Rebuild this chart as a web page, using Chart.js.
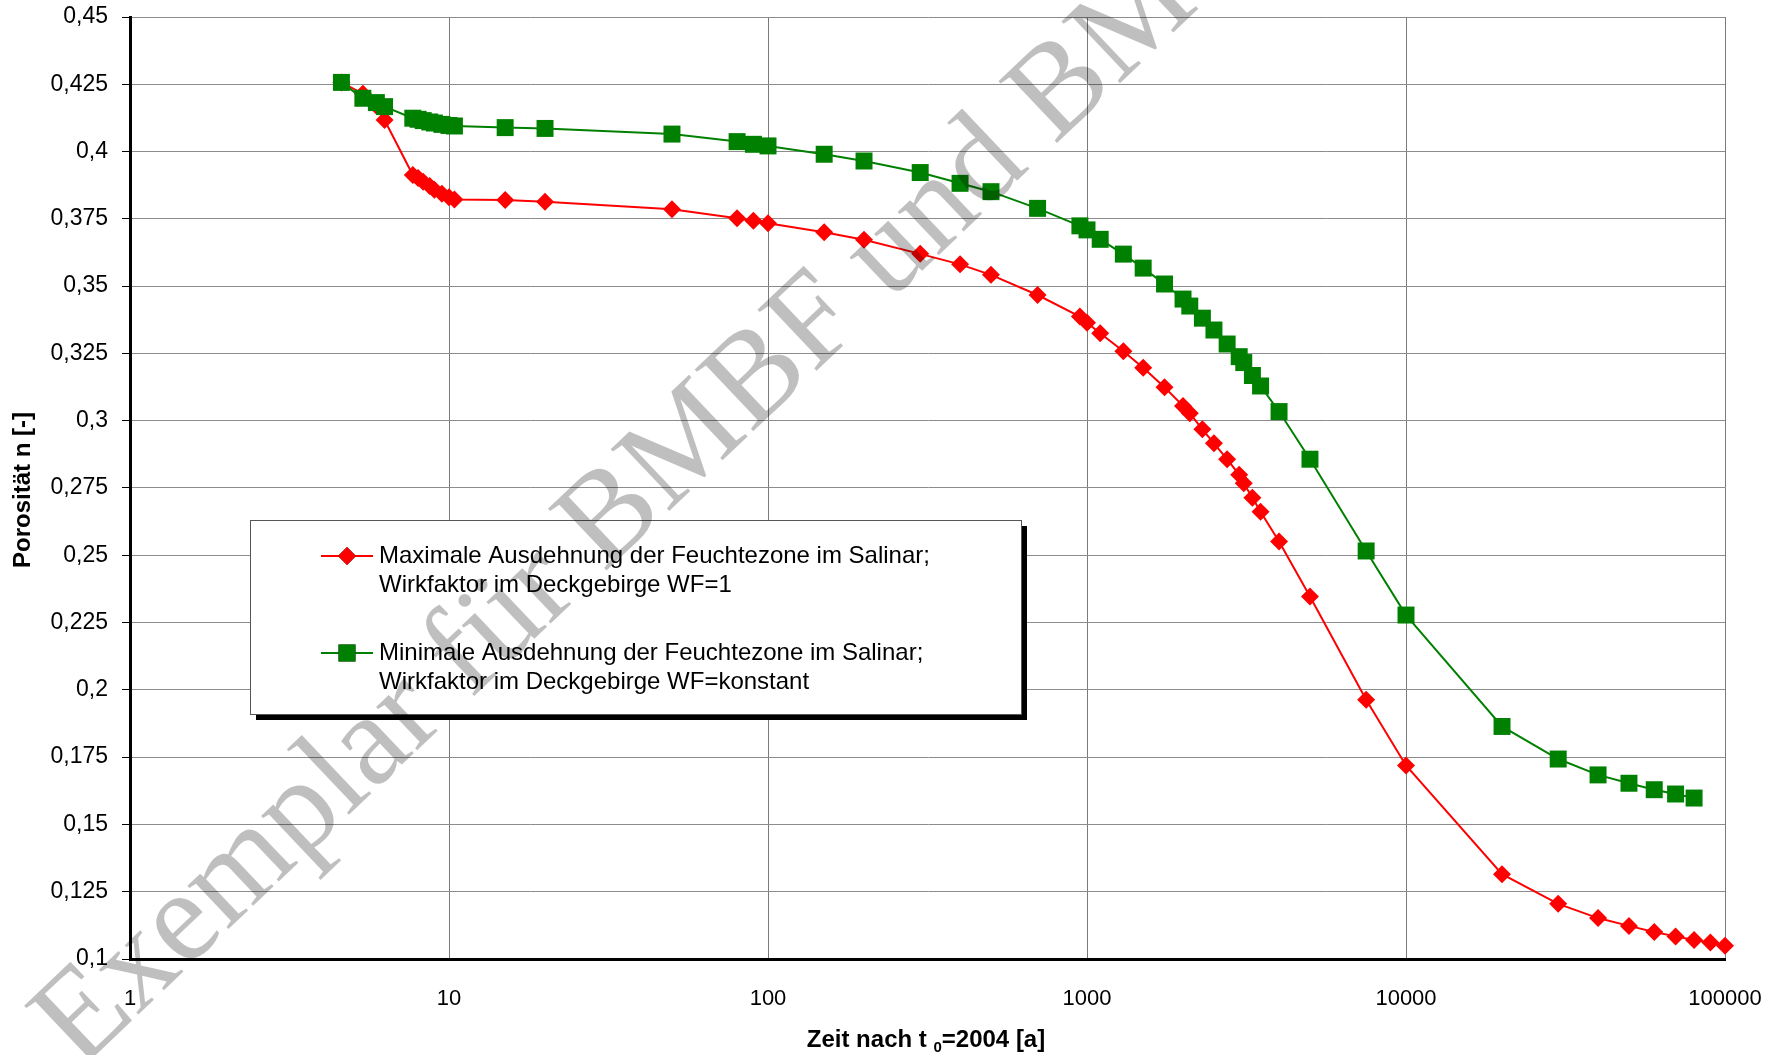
<!DOCTYPE html>
<html>
<head>
<meta charset="utf-8">
<script src="https://cdn.jsdelivr.net/npm/chart.js@4.4.0/dist/chart.umd.min.js"></script>
<style>
  html, body { margin: 0; padding: 0; background: #fff; overflow: hidden; }
</style>
</head>
<body>
<canvas id="porositaetChart" width="1784" height="1055"></canvas>
<script>
// Zeit nach t0=2004 [a]
const zeit = [4.6, 5.37, 5.92, 6.28, 7.7, 8.0, 8.3, 8.7, 9.0, 9.5, 10.0, 10.4, 15, 20, 50, 80, 90, 100,
  150, 200, 300, 400, 500, 700, 950, 1000, 1100, 1300, 1500, 1750, 2000, 2100, 2300, 2500, 2750,
  3000, 3100, 3300, 3500, 4000, 5000, 7500, 10000, 20000, 30000, 40000, 50000, 60000, 70000,
  80000, 90000, 100000];

// Maximale Ausdehnung, WF=1
const porositaetMax = [0.4257, 0.4215, 0.417, 0.4117, 0.3913, 0.3902, 0.3888, 0.3872, 0.3858, 0.3843,
  0.3830, 0.3822, 0.3820, 0.3814, 0.3786, 0.3752, 0.3743, 0.3734, 0.3700, 0.3672, 0.3620, 0.3581,
  0.3542, 0.3467, 0.3387, 0.3364, 0.3325, 0.3258, 0.3197, 0.3124, 0.3055, 0.3028, 0.2968, 0.2916,
  0.2857, 0.2799, 0.2768, 0.2714, 0.2662, 0.2551, 0.2347, 0.1963, 0.1719, 0.1315, 0.1205, 0.1152,
  0.1123, 0.1100, 0.1084, 0.1071, 0.1061, 0.1049];

// Minimale Ausdehnung, WF=konstant (endet bei 80000)
const porositaetMin = [0.4257, 0.4198, 0.4182, 0.4167, 0.4124, 0.4120, 0.4115, 0.4110, 0.4106, 0.4101,
  0.4097, 0.4095, 0.4089, 0.4086, 0.4065, 0.4037, 0.4027, 0.4021, 0.3990, 0.3965, 0.3922, 0.3882,
  0.3851, 0.3789, 0.3724, 0.3709, 0.3674, 0.3619, 0.3567, 0.3508, 0.3452, 0.3426, 0.3381, 0.3337,
  0.3285, 0.3238, 0.3216, 0.3168, 0.3129, 0.3034, 0.2857, 0.2516, 0.2278, 0.1864, 0.1743, 0.1684,
  0.1653, 0.1629, 0.1613, 0.1598];

const xTicks = [1, 10, 100, 1000, 10000, 100000];
const legendLabels = [
  ['Maximale Ausdehnung der Feuchtezone im Salinar;', 'Wirkfaktor im Deckgebirge WF=1'],
  ['Minimale Ausdehnung der Feuchtezone im Salinar;', 'Wirkfaktor im Deckgebirge WF=konstant']
];
const xTitle = ['Zeit nach t ', '0', '=2004 [a]'];
const yTitle = 'Porosität n [-]';
const watermark = 'Exemplar für BMBF und BMWi';

const ROT = '#ff0000';
const GRUEN = '#008000';
const SANS = '"Liberation Sans", Arial, sans-serif';

function toPoints(values) {
  return values.map((v, i) => ({ x: zeit[i], y: v }));
}

const extras = {
  id: 'extras',
  afterDraw(chart) {
    const ctx = chart.ctx;
    const ds = chart.data.datasets;

    // Legende mit Schatten
    const bx = 250, by = 520, bw = 771, bh = 194;
    ctx.save();
    ctx.fillStyle = '#000';
    ctx.fillRect(bx + 6, by + 6, bw, bh);
    ctx.fillStyle = '#fff';
    ctx.fillRect(bx, by, bw, bh);
    ctx.strokeStyle = '#555';
    ctx.lineWidth = 1;
    ctx.strokeRect(bx + 0.5, by + 0.5, bw, bh);
    ctx.font = '24px ' + SANS;
    ctx.textBaseline = 'middle';
    ctx.fillStyle = '#000';
    const rows = [556, 653];
    legendLabels.forEach((lines, i) => {
      const y = rows[i];
      const d = ds[i];
      ctx.strokeStyle = d.borderColor;
      ctx.lineWidth = 2;
      ctx.beginPath();
      ctx.moveTo(321, y);
      ctx.lineTo(373, y);
      ctx.stroke();
      Chart.helpers.drawPoint(ctx, {
        pointStyle: d.pointStyle, radius: d.pointRadius, borderWidth: 0
      }, 347, y);
      ctx.fillStyle = d.backgroundColor;
      ctx.fill();
      ctx.fillStyle = '#000';
      lines.forEach((t, k) => ctx.fillText(t, 379, y + k * 29));
    });
    ctx.restore();

    // Achsentitel
    ctx.save();
    ctx.fillStyle = '#000';
    ctx.font = 'bold 24px ' + SANS;
    ctx.textBaseline = 'middle';
    ctx.textAlign = 'center';
    ctx.translate(23, 490);
    ctx.rotate(-Math.PI / 2);
    ctx.fillText(yTitle, 0, 0);
    ctx.restore();

    ctx.save();
    ctx.fillStyle = '#000';
    ctx.textBaseline = 'alphabetic';
    ctx.font = 'bold 24px ' + SANS;
    const w1 = ctx.measureText(xTitle[0]).width;
    const w3 = ctx.measureText(xTitle[2]).width;
    ctx.font = 'bold 15px ' + SANS;
    const w2 = ctx.measureText(xTitle[1]).width;
    let x = 926 - (w1 + w2 + w3) / 2;
    const yb = 1047;
    ctx.font = 'bold 24px ' + SANS;
    ctx.fillText(xTitle[0], x, yb);
    x += w1;
    ctx.font = 'bold 15px ' + SANS;
    ctx.fillText(xTitle[1], x, yb + 5);
    x += w2;
    ctx.font = 'bold 24px ' + SANS;
    ctx.fillText(xTitle[2], x, yb);
    ctx.restore();

    // Wasserzeichen
    ctx.save();
    ctx.translate(80, 1070);
    ctx.rotate(-43.5 * Math.PI / 180);
    ctx.font = '130px "Liberation Serif", "Times New Roman", serif';
    ctx.fillStyle = 'rgba(0,0,0,0.25)';
    ctx.textBaseline = 'alphabetic';
    ctx.fillText(watermark, 0, 0);
    ctx.restore();
  }
};

new Chart(document.getElementById('porositaetChart'), {
  type: 'line',
  data: {
    datasets: [
      {
        label: legendLabels[0].join(' '),
        data: toPoints(porositaetMax),
        borderColor: ROT,
        backgroundColor: ROT,
        borderWidth: 2,
        pointStyle: 'rectRot',
        pointRadius: 9,
        pointBorderWidth: 0,
        pointHoverRadius: 9,
        tension: 0,
        clip: false,
        order: 1
      },
      {
        label: legendLabels[1].join(' '),
        data: toPoints(porositaetMin),
        borderColor: GRUEN,
        backgroundColor: GRUEN,
        borderWidth: 2,
        pointStyle: 'rect',
        pointRadius: 12,
        pointBorderWidth: 0,
        pointHoverRadius: 12,
        tension: 0,
        clip: false,
        order: 0
      }
    ]
  },
  options: {
    responsive: false,
    animation: false,
    devicePixelRatio: 1,
    layout: { padding: { top: 17, right: 59, left: 0, bottom: 0 } },
    plugins: {
      legend: { display: false },
      tooltip: { enabled: false },
      title: { display: false }
    },
    scales: {
      x: {
        type: 'logarithmic',
        min: 1,
        max: 100000,
        afterBuildTicks: (scale) => { scale.ticks = xTicks.map(v => ({ value: v })); },
        afterFit: (scale) => { scale.height = 96; scale.paddingLeft = 0; scale.paddingRight = 0; },
        ticks: {
          color: '#000',
          font: { family: SANS, size: 22 },
          padding: 19,
          maxRotation: 0,
          callback: (v) => String(v)
        },
        grid: { color: '#7a7a7a', lineWidth: 1, tickLength: 8, tickColor: 'rgba(0,0,0,0)' },
        border: { color: '#000', width: 3 }
      },
      y: {
        min: 0.1,
        max: 0.45,
        afterFit: (scale) => { scale.width = 130; scale.paddingTop = 0; scale.paddingBottom = 0; },
        ticks: {
          stepSize: 0.025,
          color: '#000',
          font: { family: SANS, size: 23 },
          padding: 14,
          callback: (v) => String(Math.round(v * 1000) / 1000).replace('.', ',')
        },
        grid: { color: '#8c8c8c', lineWidth: 1, tickLength: 8, tickColor: '#000' },
        border: { color: '#000', width: 3 }
      }
    }
  },
  plugins: [extras]
});
</script>
</body>
</html>
